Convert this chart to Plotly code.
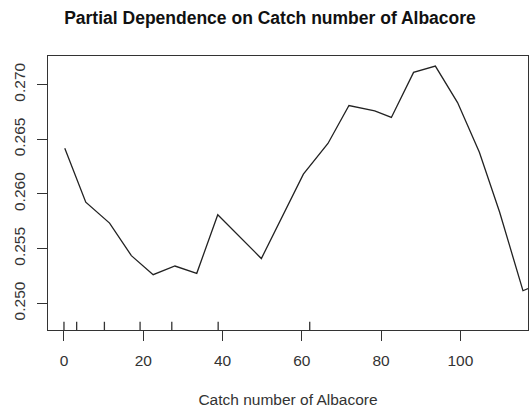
"""
Partial dependence plot (R base graphics look) recreated with Plotly
"""
import plotly.graph_objects as go

# partial dependence curve
catch_x = [0.2, 5.5, 11.5, 17.0, 22.5, 28.0, 33.5, 38.8, 49.8, 52.8, 60.4,
           66.6, 71.9, 78.4, 82.6, 88.2, 93.7, 99.3, 104.8, 109.9, 115.8, 117.1]
pd_y = [0.26418, 0.25925, 0.25733, 0.25436, 0.25262, 0.25341, 0.25274,
        0.25810, 0.25409, 0.25624, 0.26181, 0.26461, 0.26808, 0.26759,
        0.26699, 0.27111, 0.27169, 0.26835, 0.26380, 0.25835, 0.25115, 0.25135]

# rug (deciles of the predictor)
rug_x = [0, 3.2, 10.2, 19.2, 27.2, 38.9, 62.0]

x_ticks = [0, 20, 40, 60, 80, 100]
y_ticks = [0.250, 0.255, 0.260, 0.265, 0.270]
y_tick_text = ["0.250", "0.255", "0.260", "0.265", "0.270"]

FONT = "Liberation Sans, Arial, sans-serif"
INK = "#333333"

fig = go.Figure()
fig.add_trace(go.Scatter(
    x=catch_x, y=pd_y, mode="lines",
    line=dict(color="#222222", width=1.3),
    hoverinfo="x+y", showlegend=False,
))

# rug ticks along the bottom of the plot box
for rx in rug_x:
    fig.add_shape(
        type="line", xref="x", yref="y domain",
        x0=rx, x1=rx, y0=0, y1=0.03,
        line=dict(color=INK, width=1.3),
    )

fig.update_layout(
    width=529, height=414,
    margin=dict(l=48, r=1, t=56, b=84, autoexpand=False),
    paper_bgcolor="white", plot_bgcolor="white",
    font=dict(family=FONT, size=15.5, color=INK),
    title=dict(
        text="<b>Partial Dependence on Catch number of Albacore</b>",
        font=dict(family=FONT, size=17.5, color="#111111"),
        x=270 / 529, xanchor="center", xref="container",
        y=1 - 18 / 414, yanchor="middle", yref="container",
    ),
)
fig.update_xaxes(
    range=[-4.03, 117.07], automargin=False,
    tickvals=x_ticks,
    ticks="outside", ticklen=10, tickwidth=1.2, tickcolor=INK,
    ticklabelstandoff=6,
    showline=True, mirror=True, linecolor=INK, linewidth=1.3,
    showgrid=False, zeroline=False,
    tickfont=dict(size=15.5, color=INK),
    title=dict(text="Catch number of Albacore", standoff=26,
               font=dict(size=15.5, color=INK)),
)
fig.update_yaxes(
    range=[0.24756, 0.27261], automargin=False,
    tickvals=y_ticks, ticktext=y_tick_text, tickangle=-90,
    ticks="outside", ticklen=10, tickwidth=1.2, tickcolor=INK,
    ticklabelstandoff=6,
    showline=True, mirror=True, linecolor=INK, linewidth=1.3,
    showgrid=False, zeroline=False,
    tickfont=dict(size=15.5, color=INK),
)

# drop the default page margin so the figure fills the window exactly
fig.write_html(
    "out.html",
    config={"displayModeBar": False},
    post_script="document.body.style.margin='0';document.body.style.overflow='hidden';",
)
